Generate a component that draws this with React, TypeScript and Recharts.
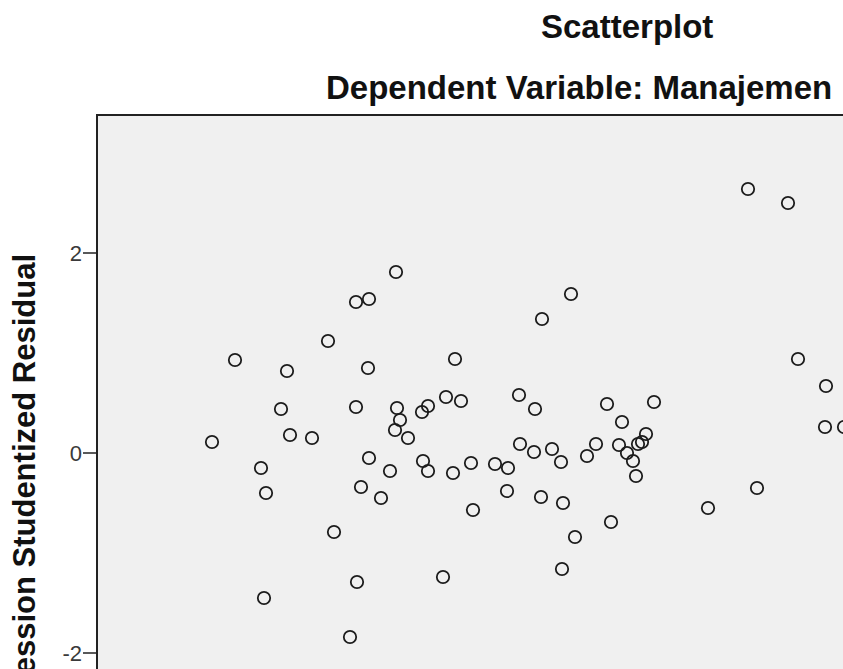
import React from "react";
import { ScatterChart, Scatter, XAxis, YAxis, ReferenceArea } from "recharts";

// Regression Standardized Predicted Value (x) and Studentized Residual (y)
const predicted = [
  -2.48, -2.25, -1.99, -1.94, -1.96, -1.79, -1.73, -1.7, -1.48, -1.32,
  -1.26, -1.1, -1.04, -1.04, -1.03, -0.99, -0.91, -0.92, -0.91, -0.79,
  -0.7, -0.64, -0.63, -0.6, -0.65, -0.52, -0.38, -0.32, -0.37, -0.32,
  -0.17, -0.14, -0.05, 0.01, -0.07, 0.11, 0.13, 0.35, 0.48, 0.47,
  0.59, 0.75, 0.82, 0.6, 0.74, 0.81, 0.92, 1.01, 1.03, 1.11,
  1.02, 1.15, 1.27, 1.36, 1.47, 1.51, 1.59, 1.62, 1.67, 1.73,
  1.76, 1.78, 1.82, 1.86, 1.94, 2.48, 2.88, 2.97, 3.28, 3.38,
  3.66, 3.65, 3.84,
];
const residuals = [
  0.11, 0.93, -0.15, -0.4, -1.45, 0.44, 0.82, 0.18, 0.15, 1.12,
  -0.79, -1.84, 1.51, 0.46, -1.29, -0.34, 1.54, 0.85, -0.05, -0.45,
  -0.18, 1.81, 0.45, 0.33, 0.23, 0.15, 0.41, 0.47, -0.08, -0.18,
  -1.24, 0.56, 0.94, 0.52, -0.2, -0.1, -0.57, -0.11, -0.15, -0.38,
  0.58, 0.44, 1.34, 0.09, 0.01, -0.44, 0.04, -0.09, -0.5, 1.59,
  -1.16, -0.84, -0.03, 0.09, 0.49, -0.69, 0.08, 0.31, 0.0, -0.08,
  -0.23, 0.09, 0.11, 0.19, 0.51, -0.55, 2.64, -0.35, 2.5, 0.94,
  0.67, 0.26, 0.26,
];
const yTicks = [-2, 0, 2];
const xDomain = [-3.63, 4.4];
const yDomain = [-2.67, 3.38];

const points = predicted.map((x, i) => ({ x, y: residuals[i] }));

const font = "'Liberation Sans', Arial, sans-serif";

function Ring(props: any) {
  return <circle cx={props.cx} cy={props.cy} r={6.2} fill="none" stroke="#1c1c1c" strokeWidth={1.8} />;
}

export default function App() {
  return (
    <div style={{ position: "fixed", left: 0, top: 0, width: 843, height: 669, overflow: "hidden", background: "#fff" }}>
      <ScatterChart width={1000} height={760} margin={{ top: 115, right: 100, bottom: 40, left: 37 }}>
        <XAxis type="number" dataKey="x" domain={xDomain} hide allowDataOverflow />
        <YAxis
          type="number"
          dataKey="y"
          domain={yDomain}
          ticks={yTicks}
          width={60}
          allowDataOverflow
          axisLine={false}
          tickSize={14}
          tickMargin={1}
          tickLine={{ stroke: "#222", strokeWidth: 1.5 }}
          tick={{ fill: "#3a3a3a", fontSize: 22, fontFamily: font }}
        />
        <ReferenceArea
          x1={xDomain[0]}
          x2={xDomain[1]}
          y1={yDomain[0]}
          y2={yDomain[1]}
          fill="#f0f0f0"
          fillOpacity={1}
          stroke="#222"
          strokeWidth={2}
          ifOverflow="visible"
        />
        <Scatter data={points} shape={Ring} isAnimationActive={false} />
      </ScatterChart>
      <svg width={843} height={669} style={{ position: "absolute", left: 0, top: 0, pointerEvents: "none" }}>
        <text x={541} y={38} fontFamily={font} fontWeight="bold" fontSize={33} fill="#111">Scatterplot</text>
        <text x={326} y={99} fontFamily={font} fontWeight="bold" fontSize={33} fill="#111">Dependent Variable: Manajemen</text>
        <text
          x={35}
          y={254}
          transform="rotate(-90 35 254)"
          textAnchor="end"
          fontFamily={font}
          fontWeight="bold"
          fontSize={31}
          fill="#111"
        >
          Regression Studentized Residual
        </text>
      </svg>
    </div>
  );
}
